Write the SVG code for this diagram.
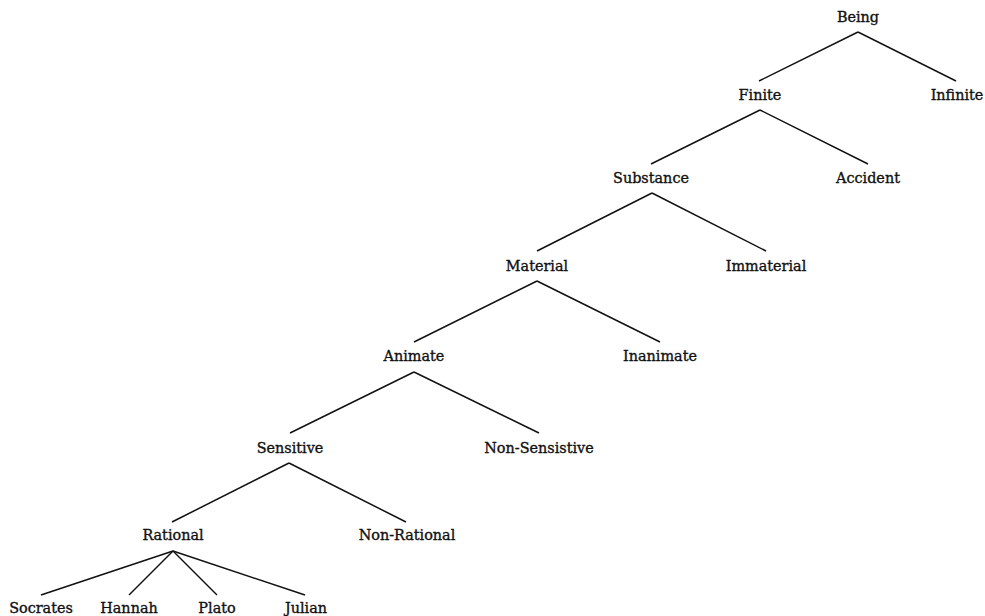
<svg xmlns="http://www.w3.org/2000/svg" width="985" height="616" viewBox="0 0 985 616">
<style>
text{font-family:"DejaVu Serif","Liberation Serif",serif;font-size:14.4px;fill:#111;stroke:#111;stroke-width:0.35;text-anchor:middle}
.e line{stroke:#111;stroke-width:1.5}
</style>
<rect width="985" height="616" fill="#fff"/>
<g class="e" id="edges">
<line x1="858" y1="32" x2="759" y2="81"/>
<line x1="858" y1="32" x2="956" y2="81"/>
<line x1="760" y1="110" x2="651" y2="164"/>
<line x1="760" y1="110" x2="868" y2="164"/>
<line x1="652" y1="193" x2="537" y2="251"/>
<line x1="652" y1="193" x2="766" y2="251"/>
<line x1="537" y1="281" x2="414" y2="342"/>
<line x1="537" y1="281" x2="660" y2="342"/>
<line x1="414" y1="372" x2="290" y2="433"/>
<line x1="414" y1="372" x2="539" y2="433"/>
<line x1="289" y1="463" x2="172" y2="522"/>
<line x1="289" y1="463" x2="406" y2="522"/>
<line x1="173" y1="551" x2="41" y2="595"/>
<line x1="173" y1="551" x2="129" y2="595"/>
<line x1="173" y1="551" x2="217" y2="595"/>
<line x1="173" y1="551" x2="305" y2="595"/>
</g>
<g id="being"><text x="858" y="22">Being</text></g>
<g id="finite"><text x="760" y="100">Finite</text></g>
<g id="infinite"><text x="957" y="100">Infinite</text></g>
<g id="substance"><text x="651" y="183">Substance</text></g>
<g id="accident"><text x="868" y="183">Accident</text></g>
<g id="material"><text x="537" y="271">Material</text></g>
<g id="immaterial"><text x="766" y="271">Immaterial</text></g>
<g id="animate"><text x="414" y="361">Animate</text></g>
<g id="inanimate"><text x="660" y="361">Inanimate</text></g>
<g id="sensitive"><text x="290" y="453">Sensitive</text></g>
<g id="nonsensistive"><text x="539" y="453">Non-Sensistive</text></g>
<g id="rational"><text x="173" y="540">Rational</text></g>
<g id="nonrational"><text x="407" y="540">Non-Rational</text></g>
<g id="socrates"><text x="41" y="613">Socrates</text></g>
<g id="hannah"><text x="129" y="613">Hannah</text></g>
<g id="plato"><text x="217" y="613">Plato</text></g>
<g id="julian"><text x="306" y="613">Julian</text></g>
</svg>
